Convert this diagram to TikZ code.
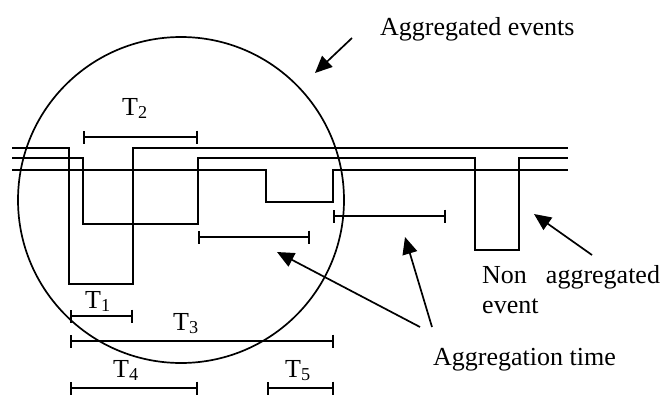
\documentclass[tikz,border=0pt]{standalone}
\usepackage{fontspec}
\setmainfont{Liberation Serif}
\usetikzlibrary{arrows.meta, positioning}

\tikzset{
  sig/.style={line width=1.7pt},
  span/.style={line width=1.7pt, {Bar[width=13pt]}-{Bar[width=13pt]}},
  lbl/.style={font=\fontsize{26}{30}\selectfont, inner sep=0pt, anchor=base west},
  pointer/.style={line width=1.7pt, -{Triangle[length=17pt,width=15pt]}}
}

\begin{document}
\begin{tikzpicture}[x=1pt,y=-1pt]
  \useasboundingbox (0,0) rectangle (663,394);
  % event lines
  \draw[sig] (12,148) -- (69,148) -- (69,284) -- (133,284) -- (133,148) -- (568,148);
  \draw[sig] (12,158) -- (83,158) -- (83,224) -- (198,224) -- (198,158) -- (475,158)
    -- (475,250) -- (519,250) -- (519,158) -- (568,158);
  \draw[sig] (12,170) -- (266,170) -- (266,202) -- (333,202) -- (333,170) -- (568,170);
  % aggregation window
  \draw[sig] (181,200) circle[radius=163pt];
  % time spans
  \draw[span] (83,137) -- (198,137);
  \draw[span] (198,237) -- (310,237);
  \draw[span] (333,216) -- (446,216);
  \draw[span] (70,316) -- (133,316);
  \draw[span] (70,341) -- (334,341);
  \draw[span] (70,388) -- (198,388);
  \draw[span] (267,388) -- (334,388);
  \node[lbl] (t2) at (122,115) {T\textsubscript{2}};
  \node[lbl] (t1) at (85,308) {T\textsubscript{1}};
  \node[lbl] (t3) at (173,330) {T\textsubscript{3}};
  \node[lbl] (t4) at (113,377) {T\textsubscript{4}};
  \node[lbl] (t5) at (285,377) {T\textsubscript{5}};
  % labels and pointers
  \node[lbl] (aggev) at (380,35) {Aggregated events};
  \node[lbl] (nonagg) at (482,283) {Non\hspace{19pt}aggregated};
  \node[lbl] (nonaggev) at (482,313) {event};
  \node[lbl] (aggtime) at (433,365) {Aggregation time};
  \coordinate (aggevtail) at (352,38);
  \coordinate (aggevtip) at (315,73);
  \coordinate (nonaggtail) at (592,255);
  \coordinate (nonaggtip) at (534,214);
  \coordinate (aggtailA) at (420,327);
  \coordinate (aggtipA) at (277,252);
  \coordinate (aggtailB) at (432,327);
  \coordinate (aggtipB) at (405,237);
  \draw[pointer] (aggevtail) -- (aggevtip);
  \draw[pointer] (nonaggtail) -- (nonaggtip);
  \draw[pointer] (aggtailA) -- (aggtipA);
  \draw[pointer] (aggtailB) -- (aggtipB);
\end{tikzpicture}
\end{document}
